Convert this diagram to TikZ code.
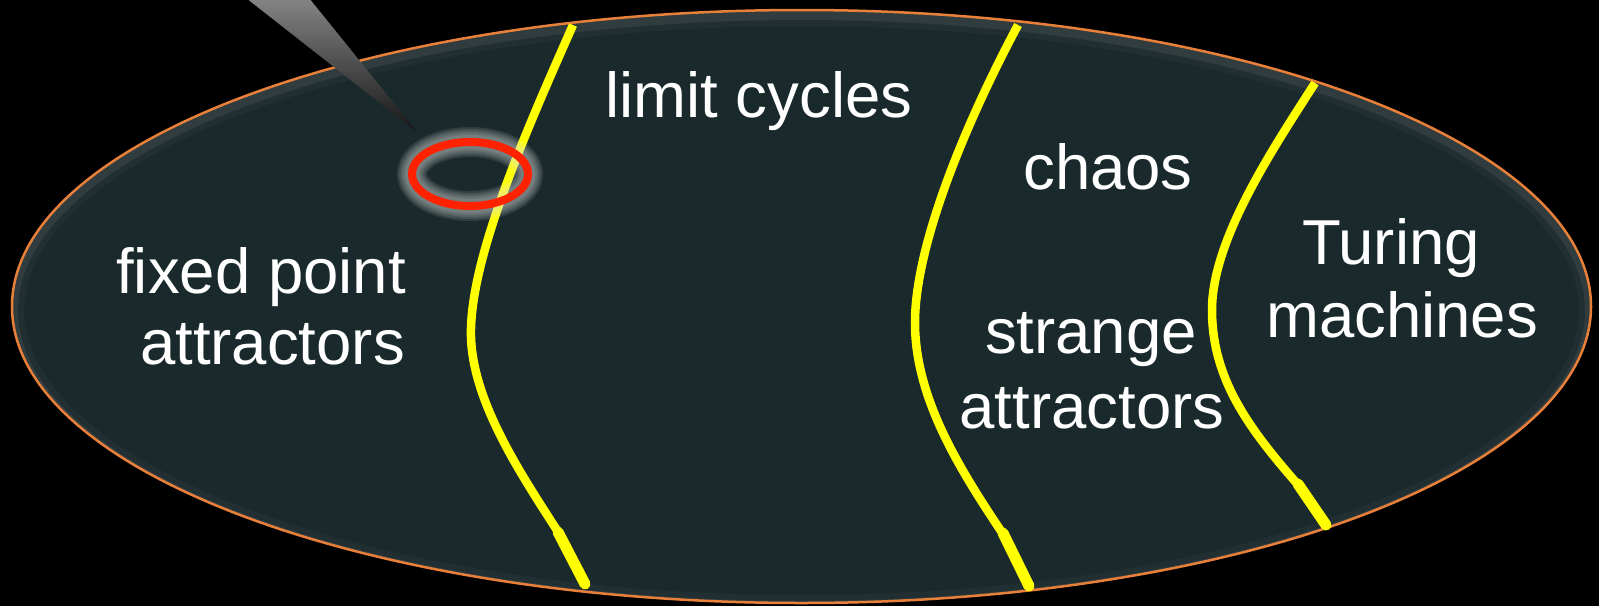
\documentclass[tikz,border=0pt]{standalone}
\usepackage{fontspec}
\setmainfont{Liberation Sans}
\definecolor{bgteal}{HTML}{1A292C}
\definecolor{rimorange}{HTML}{E8803A}
\definecolor{ylw}{HTML}{FFFF00}
\definecolor{ringred}{HTML}{FF2200}
\tikzset{
  lbl/.style={text=white, inner sep=0pt, font=\fontsize{63.5}{70}\selectfont},
  yline/.style={draw=ylw, line width=8.5pt},
  tipseg/.style={draw=ylw, line width=11pt, line cap=round},
  glow/.style={draw=white!75!gray, opacity=0.12},
}
\begin{document}
\begin{tikzpicture}[x=1pt,y=-1pt]
\useasboundingbox (0,0) rectangle (1599,606);
\fill[black] (0,0) rectangle (1599,606);
% main ellipse
\fill[bgteal] (801.5,306.5) ellipse [x radius=789.5, y radius=296.5];
\begin{scope}
  \clip (801.5,306.5) ellipse [x radius=789.5, y radius=296.5];
  \draw[gray, opacity=0.08, line width=24pt] (801.5,310.5) ellipse [x radius=789.5, y radius=296.5];
  \draw[gray!80, opacity=0.13, line width=12pt] (801.5,310.5) ellipse [x radius=789.5, y radius=296.5];
\end{scope}
\draw[rimorange, line width=2.5pt] (801.5,306.5) ellipse [x radius=789.5, y radius=296.5];
% yellow boundaries
\coordinate (a0) at (573,25);
\coordinate (a1) at (471,337);
\coordinate (a2) at (560,535);
\coordinate (a3) at (585,584);
\draw[yline] (a0) .. controls (522,140) and (469,262) .. (a1) .. controls (473,405) and (525,480) .. (a2);
\draw[tipseg] (558,532) -- (a3);
\coordinate (b0) at (1018,25);
\coordinate (b1) at (915,325);
\coordinate (b2) at (1005,537);
\coordinate (b3) at (1029,586);
\draw[yline] (b0) .. controls (962,130) and (914,250) .. (b1) .. controls (916,400) and (960,470) .. (b2);
\draw[tipseg] (1003,533) -- (b3);
\coordinate (c0) at (1315,83);
\coordinate (c1) at (1212,310);
\coordinate (c2) at (1300,487);
\coordinate (c3) at (1326,525);
\draw[yline] (c0) .. controls (1272,150) and (1212,240) .. (c1) .. controls (1212,380) and (1250,430) .. (c2);
\draw[tipseg] (1298,484) -- (c3);
% red ring with glow
\foreach \w in {30,26,22,18,14} {
  \draw[glow, line width=\w pt] (470,174) ellipse [x radius=58, y radius=32];
}
\draw[ringred, line width=8pt] (470,174) ellipse [x radius=58, y radius=32];
% pointer
\shade[top color=black!48, bottom color=black!92] (246,-2) -- (309,-2) -- (418,133) -- cycle;
% labels
\node[lbl, anchor=base] (lc) at (759,117) {limit cycles};
\node[lbl, anchor=base east] (fp1) at (406,293) {fixed point};
\node[lbl, anchor=base east] (fp2) at (405,364) {attractors};
\node[lbl, anchor=base] (ch) at (1108,189) {chaos};
\node[lbl, anchor=base] (sa1) at (1091,353) {strange};
\node[lbl, anchor=base] (sa2) at (1092,428) {attractors};
\node[lbl, anchor=base] (tm1) at (1391,264) {Turing};
\node[lbl, anchor=base] (tm2) at (1402,337) {machines};
\end{tikzpicture}
\end{document}
